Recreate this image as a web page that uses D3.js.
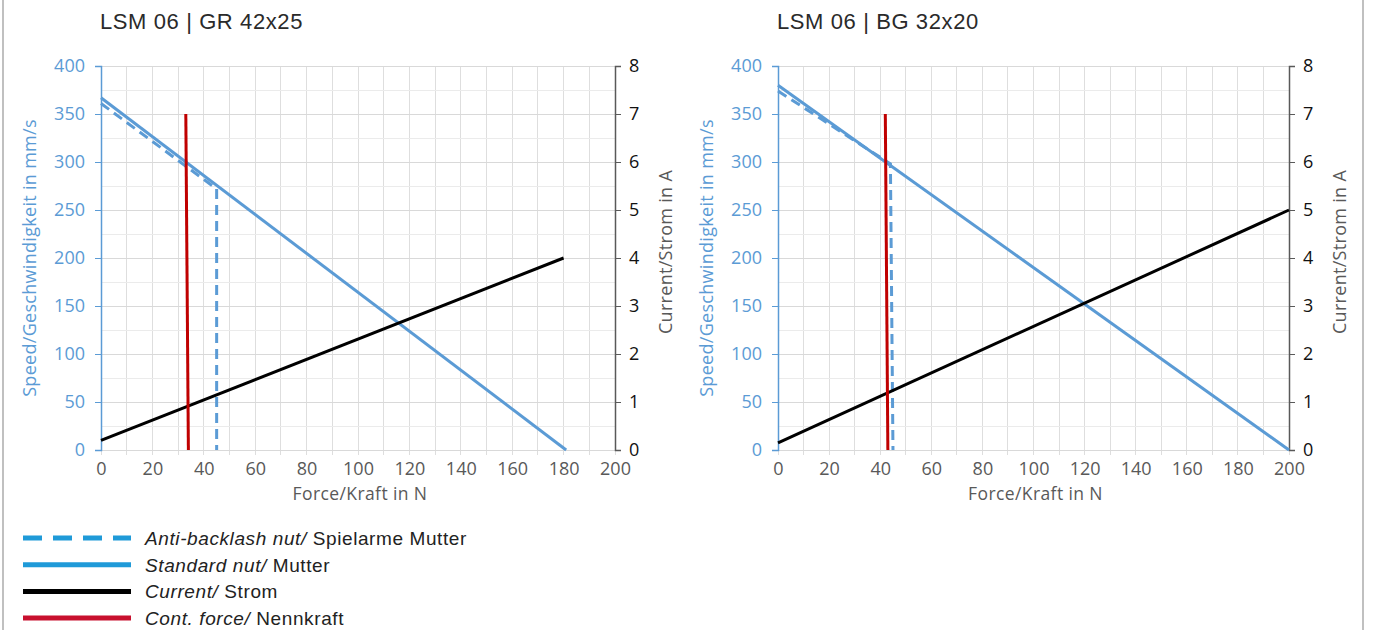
<!DOCTYPE html>
<html><head><meta charset="utf-8">
<script src="https://cdn.jsdelivr.net/npm/d3@7"></script>
<style>body{margin:0;background:#fff}svg{display:block}</style>
</head><body>
<svg id="c" width="1379" height="630"></svg>
<script>
// ---- data ----
const forceTicks = [0,20,40,60,80,100,120,140,160,180,200];
const speedTicks = [0,50,100,150,200,250,300,350,400];
const currentTicks = [0,1,2,3,4,5,6,7,8];

const titles = ["LSM 06 | GR 42x25", "LSM 06 | BG 32x20"];

// GR 42x25
const grStandardForce = [0, 181];
const grStandardSpeed = [367, 0];
const grAntiForce = [0, 45, 45];
const grAntiSpeed = [361, 272, 0];
const grCurrentForce = [0, 180];
const grCurrentAmps = [0.2, 4.0];
const grContForce = [33, 34];
const grContSpeed = [350, 0];

// BG 32x20
const bgStandardForce = [0, 200];
const bgStandardSpeed = [380, 0];
const bgAntiForce = [0, 44, 45];
const bgAntiSpeed = [374, 298, 0];
const bgCurrentForce = [0, 200];
const bgCurrentAmps = [0.15, 5.0];
const bgContForce = [42, 43];
const bgContSpeed = [350, 0];

const legendItems = [
  {it: "Anti-backlash nut/", rest: " Spielarme Mutter"},
  {it: "Standard nut/", rest: " Mutter"},
  {it: "Current/", rest: " Strom"},
  {it: "Cont. force/", rest: " Nennkraft"}
];

// ---- drawing ----
const svg = d3.select("#c");
const BLUE = "#5b9bd5";
const RED = "#c00000";
const tickFont = "'Open Sans', sans-serif";

// frame lines
svg.append("line").attr("x1",3).attr("x2",3).attr("y1",0).attr("y2",630).attr("stroke","#c0c0c0").attr("stroke-width",2);
svg.append("line").attr("x1",1363).attr("x2",1363).attr("y1",0).attr("y2",630).attr("stroke","#c0c0c0").attr("stroke-width",2);

function zip(a,b){ return a.map((v,i)=>[v,b[i]]); }

function drawChart(cfg){
  const g = svg.append("g");
  const x = d3.scaleLinear().domain([0,200]).range([cfg.x0, cfg.x1]);
  const y = d3.scaleLinear().domain([0,400]).range([450, 66]);
  const y2 = d3.scaleLinear().domain([0,8]).range([450, 66]);

  // grid
  const vgrid = d3.range(0,201,10), hgrid = d3.range(0,401,25);
  g.selectAll(".vg").data(vgrid).join("line")
    .attr("x1",d=>x(d)).attr("x2",d=>x(d)).attr("y1",66).attr("y2",455)
    .attr("stroke","#dedede").attr("stroke-width",1).attr("shape-rendering","crispEdges");
  g.selectAll(".hg").data(hgrid).join("line")
    .attr("x1",cfg.x0).attr("x2",cfg.x1).attr("y1",d=>y(d)).attr("y2",d=>y(d))
    .attr("stroke",d=>d%50===0?"#d9d9d9":"#ebebeb").attr("stroke-width",1).attr("shape-rendering","crispEdges");

  // left axis
  const ax = d3.axisLeft(y).tickValues(speedTicks).tickSize(6).tickPadding(10);
  const la = g.append("g").attr("transform",`translate(${cfg.x0},0)`).call(ax);
  la.select(".domain").attr("stroke",BLUE).attr("stroke-width",1.5);
  la.selectAll(".tick line").attr("stroke",BLUE);
  la.selectAll("text").attr("fill",BLUE).style("font-family",tickFont).style("font-size","18px");

  // right axis
  const ax2 = d3.axisRight(y2).tickValues(currentTicks).tickSize(6).tickPadding(8);
  const ra = g.append("g").attr("transform",`translate(${cfg.x1},0)`).call(ax2);
  ra.select(".domain").attr("stroke","#595959").attr("stroke-width",1.5);
  ra.selectAll(".tick line").attr("stroke","#595959");
  ra.selectAll("text").attr("fill","#111").style("font-family",tickFont).style("font-size","18px");

  // bottom axis (labels only)
  const bx = d3.axisBottom(x).tickValues(forceTicks).tickSize(0).tickPadding(12);
  const ba = g.append("g").attr("transform",`translate(0,450)`).call(bx);
  ba.select(".domain").remove();
  ba.selectAll("text").attr("fill","#595959").style("font-family",tickFont).style("font-size","18px");

  // axis titles
  g.append("text").attr("x",(cfg.x0+cfg.x1)/2 + 2).attr("y",500).attr("text-anchor","middle")
    .attr("fill","#595959").style("font-family",tickFont).style("font-size","17.5px")
    .style("letter-spacing","0.4px").text("Force/Kraft in N");
  g.append("text").attr("transform",`translate(${cfg.x0-65},258) rotate(-90)`).attr("text-anchor","middle")
    .attr("fill",BLUE).style("font-family",tickFont).style("font-size","18px")
    .style("letter-spacing","0.3px").text("Speed/Geschwindigkeit in mm/s");
  g.append("text").attr("transform",`translate(${cfg.x1+57},252) rotate(-90)`).attr("text-anchor","middle")
    .attr("fill","#595959").style("font-family",tickFont).style("font-size","18px")
    .style("letter-spacing","0.3px").text("Current/Strom in A");

  // title
  g.append("text").attr("x",cfg.x0-1).attr("y",29).attr("fill","#2a2a2a")
    .style("font-family","'Liberation Sans', Arial, sans-serif").style("font-size","22px")
    .style("letter-spacing","0.6px").text(cfg.title);

  const line = d3.line().x(d=>x(d[0])).y(d=>y(d[1]));
  const line2 = d3.line().x(d=>x(d[0])).y(d=>y2(d[1]));

  g.append("path").attr("d",line(zip(cfg.antiF,cfg.antiS))).attr("fill","none")
    .attr("stroke",BLUE).attr("stroke-width",3).attr("stroke-dasharray","10,6");
  g.append("path").attr("d",line(zip(cfg.stdF,cfg.stdS))).attr("fill","none")
    .attr("stroke",BLUE).attr("stroke-width",3);
  g.append("path").attr("d",line2(zip(cfg.curF,cfg.curA))).attr("fill","none")
    .attr("stroke","#000").attr("stroke-width",3);
  g.append("path").attr("d",line(zip(cfg.contF,cfg.contS))).attr("fill","none")
    .attr("stroke",RED).attr("stroke-width",3);
}

drawChart({x0:101, x1:615, title:titles[0],
  stdF:grStandardForce, stdS:grStandardSpeed, antiF:grAntiForce, antiS:grAntiSpeed,
  curF:grCurrentForce, curA:grCurrentAmps, contF:grContForce, contS:grContSpeed});
drawChart({x0:778, x1:1289, title:titles[1],
  stdF:bgStandardForce, stdS:bgStandardSpeed, antiF:bgAntiForce, antiS:bgAntiSpeed,
  curF:bgCurrentForce, curA:bgCurrentAmps, contF:bgContForce, contS:bgContSpeed});

// legend
const legColors = ["#1f9ad8","#1f9ad8","#000","#c8102e"];
const legDash = ["19,11",null,null,null];
const lg = svg.append("g");
legendItems.forEach((d,i)=>{
  const yy = 538 + i*26.7;
  lg.append("line").attr("x1",23).attr("x2",131).attr("y1",yy).attr("y2",yy)
    .attr("stroke",legColors[i]).attr("stroke-width",5)
    .attr("stroke-dasharray",legDash[i]);
  const t = lg.append("text").attr("x",145).attr("y",yy+7).attr("fill","#222")
    .style("font-family","'Liberation Sans', Arial, sans-serif").style("font-size","19px")
    .style("letter-spacing","0.6px");
  t.append("tspan").style("font-style","italic").text(d.it);
  t.append("tspan").text(d.rest);
});
</script>
</body></html>
